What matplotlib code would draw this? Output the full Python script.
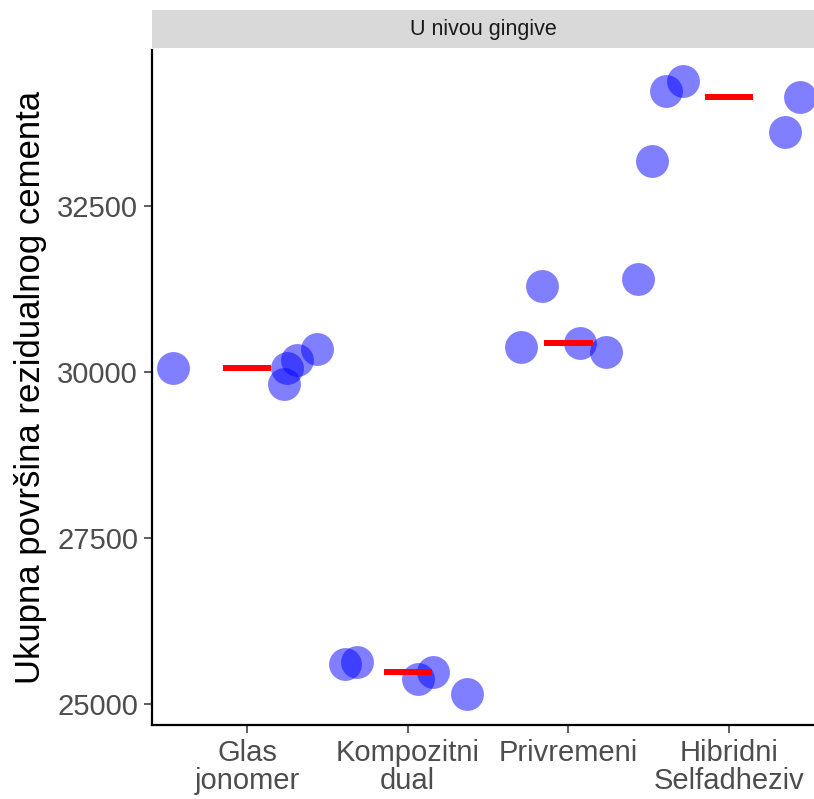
import numpy as np
import matplotlib
matplotlib.use("Agg")
import matplotlib.pyplot as plt

plt.rcParams['font.family'] = ['Liberation Sans', 'DejaVu Sans']

categories = ["Glas\njonomer", "Kompozitni\ndual", "Privremeni", "Hibridni\nSelfadheziv"]

# values, per group
glas = [30056, 29814, 30065, 30177, 30343]
kompozitni = [25599, 25623, 25373, 25472, 25146]
privremeni = [30377, 31298, 30442, 30306, 31399]
hibridni = [33183, 34240, 34390, 33612, 34140]

# horizontal jitter of each point (in category units)
glas_jit = [-0.462, 0.230, 0.247, 0.309, 0.434]
kompozitni_jit = [-0.390, -0.317, 0.066, 0.159, 0.367]
privremeni_jit = [-0.297, -0.162, 0.072, 0.234, 0.435]
hibridni_jit = [-0.478, -0.395, -0.289, 0.348, 0.441]

groups = [glas, kompozitni, privremeni, hibridni]
jitters = [glas_jit, kompozitni_jit, privremeni_jit, hibridni_jit]

fig = plt.figure(figsize=(8.14, 7.99), dpi=100)
ax = fig.add_axes([152/814, 74/799, 662/814, 675/799])

for i, (vals, jit) in enumerate(zip(groups, jitters)):
    x = i + 1 + np.array(jit)
    ax.scatter(x, vals, s=560, color='#0000FF', alpha=0.5, linewidths=0, zorder=2)
    med = np.median(vals)
    ax.hlines(med, i + 1 - 0.15, i + 1 + 0.15, color='red', linewidth=4.3, zorder=3)

ax.set_xlim(0.409, 4.528)
ax.set_ylim(24680, 34855)
ax.set_xticks([1, 2, 3, 4])
ax.set_xticklabels(categories, fontsize=21, color='#4D4D4D', linespacing=1.0)
ax.set_yticks([25000, 27500, 30000, 32500])
ax.set_yticklabels(["25000", "27500", "30000", "32500"], fontsize=21, color='#4D4D4D')
ax.tick_params(axis='both', length=6, width=1.1, color='#333333', pad=4)
ax.set_ylabel("Ukupna površina rezidualnog cementa", fontsize=25, color='black', labelpad=7)

for side in ['top', 'right']:
    ax.spines[side].set_visible(False)
for side in ['left', 'bottom']:
    ax.spines[side].set_linewidth(1.6)
    ax.spines[side].set_color('black')

# facet strip
strip = fig.add_axes([152/814, 751/799, 662/814, 38/799])
strip.set_facecolor('#D9D9D9')
strip.set_xticks([])
strip.set_yticks([])
for s in strip.spines.values():
    s.set_visible(False)
strip.text(0.5, 0.5, "U nivou gingive", ha='center', va='center', fontsize=15.5,
           color='#1A1A1A', transform=strip.transAxes)

fig.savefig("out.png", dpi=100)
